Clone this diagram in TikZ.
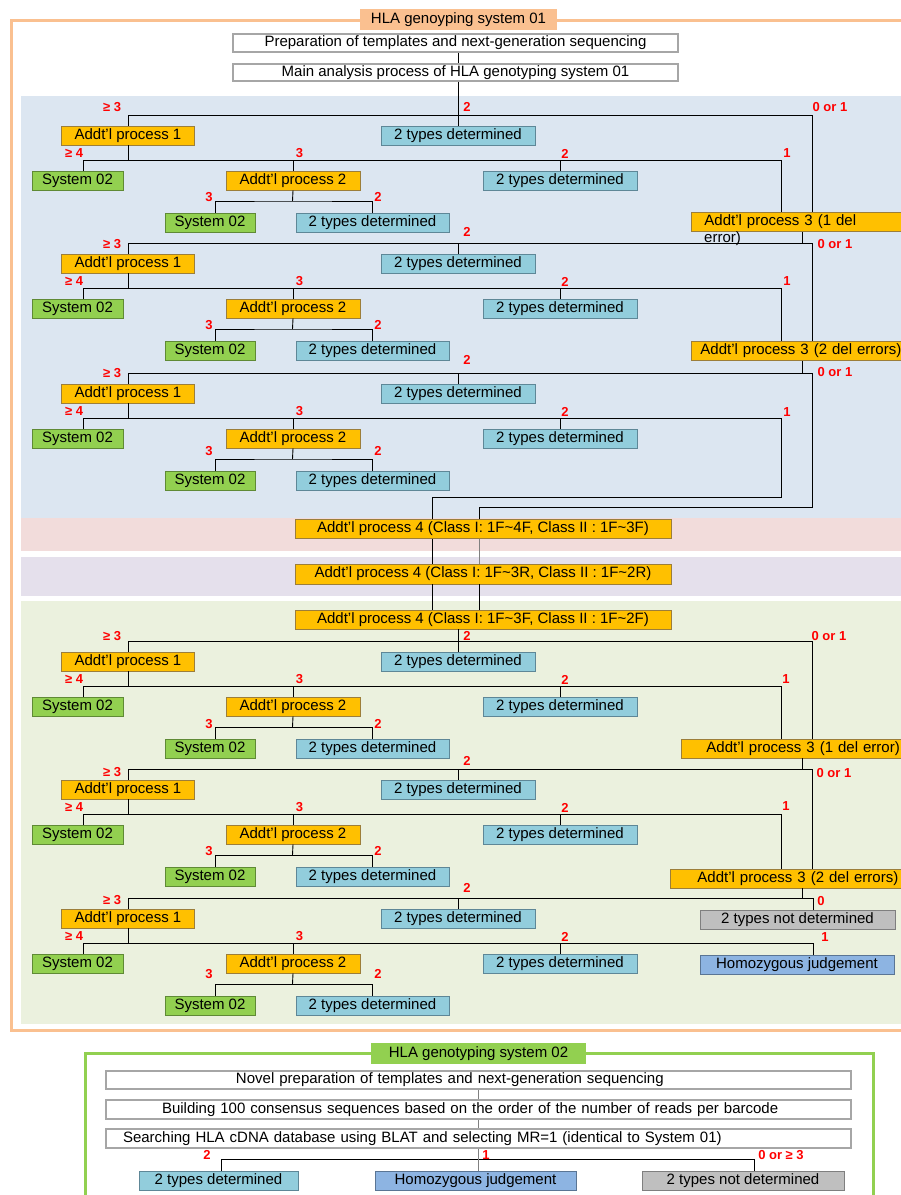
\documentclass[tikz,border=0pt]{standalone}
\usepackage{fontspec}
\setmainfont{Liberation Sans}
\usetikzlibrary{calc}
\definecolor{apfill}{HTML}{FFC000}
\definecolor{apline}{HTML}{9C7E3A}
\definecolor{sysfill}{HTML}{92D050}
\definecolor{sysline}{HTML}{5F8A35}
\definecolor{detfill}{HTML}{92CDDC}
\definecolor{detline}{HTML}{5E8797}
\definecolor{ndfill}{HTML}{BFBFBF}
\definecolor{ndline}{HTML}{7F7F7F}
\definecolor{homfill}{HTML}{8DB4E2}
\definecolor{homline}{HTML}{5A7594}
\definecolor{plainline}{HTML}{A6A6A6}
\definecolor{labred}{HTML}{FF0000}
\definecolor{orframe}{HTML}{FAC090}
\definecolor{grframe}{HTML}{92D050}
\definecolor{regblue}{HTML}{DCE6F1}
\definecolor{regpink}{HTML}{F2DCDB}
\definecolor{regpurple}{HTML}{E5E0EC}
\definecolor{reggreen}{HTML}{EBF1DE}
% #1 prefix, #2 y of top bus, #3 offset of >=3 label, #4 offset of top "2" label, #5 offset of lower labels
\newcommand\HlaBlk[5]{%
  \node[ap, minimum width=133pt] (#1ap1) at (128,{#2+20.5}) {Addt’l process 1};
  \node[det] (#1t2) at (458,{#2+20.5}) {2 types determined};
  \node[sys] (#1sa) at (77.5,{#2+65.5}) {System 02};
  \node[ap, minimum width=134pt] (#1ap2) at (293,{#2+65.5}) {Addt’l process 2};
  \node[det] (#1tb) at (560,{#2+65.5}) {2 types determined};
  \node[sys, minimum width=90pt] (#1sb) at (210,{#2+107.5}) {System 02};
  \node[det, minimum width=153pt] (#1tc) at (372.5,{#2+107.5}) {2 types determined};
  \coordinate (#1top) at (128,#2);
  \coordinate (#1bus) at (128,{#2+45});
  \coordinate (#1low) at (292.5,{#2+86});
  \draw[conn] (#1ap1.north) -- (#1top);
  \draw[conn] (#1t2.north) -- (#1t2.north |- #1top);
  \draw[conn] (#1ap1.south) -- (#1bus);
  \draw[conn] ([xshift=5.5pt]#1sa.north) |- (#1bus);
  \draw[conn] (#1ap2.north) -- (#1ap2.north |- #1bus);
  \draw[conn] (#1tb.north) -- (#1tb.north |- #1bus);
  \draw[conn] (#1ap2.south) -- (#1low);
  \draw[conn] ([xshift=5.3pt]#1sb.north) |- (#1low) -| (#1tc.north);
  \node[lab] (#1la) at (112,{#2#3}) {≥ 3};
  \node[lab] (#1lb) at (467,{#2#4}) {2};
  \node[lab] (#1lc) at (74,{#2+38.5}) {≥ 4};
  \node[lab] (#1ld) at (299.5,{#2+38.5}) {3};
  \node[lab] (#1le) at (565,{#2+38.5}) {2};
  \node[lab] (#1lf) at (209,{#2#5}) {3};
  \node[lab] (#1lg) at (378,{#2#5}) {2};
}
\begin{document}
\begin{tikzpicture}[x=1pt,y=-1pt,
  txt/.style={font=\fontsize{15}{17}\selectfont},
  box/.style={txt, draw, line width=0.8pt, inner sep=0pt, minimum height=19pt},
  ap/.style={box, fill=apfill, draw=apline},
  sys/.style={box, fill=sysfill, draw=sysline, minimum width=91pt},
  det/.style={box, fill=detfill, draw=detline, minimum width=154pt},
  nd/.style={box, fill=ndfill, draw=ndline},
  hom/.style={box, fill=homfill, draw=homline},
  plain/.style={box, fill=white, draw=plainline, line width=1.1pt},
  apthree/.style={ap, anchor=west, text width=240pt, align=left, inner ysep=0pt},
  lab/.style={text=labred, font=\bfseries\fontsize{13}{15}\selectfont, inner sep=0pt},
  conn/.style={line width=0.9pt, draw=black},
  gconn/.style={line width=0.9pt, draw=gray},
  title/.style={txt, inner sep=0pt, minimum height=21pt}
]
\useasboundingbox (0,0) rectangle (901,1195);
\clip (0,0) rectangle (901,1195);
\fill[white] (0,0) rectangle (901,1195);
% ---------------- System 01 frame and regions
\fill[regblue] (21,96) rectangle (940,517.5);
\fill[regpink] (21,517.5) rectangle (940,551);
\fill[regpurple] (21,557) rectangle (940,596);
\fill[reggreen] (21,601) rectangle (940,1024);
\draw[orframe, line width=3pt] (11,20) rectangle (940,1030);
\node[title, fill=orframe, minimum width=197pt] (t1) at (458.5,19.5) {HLA genoyping system 01};
\node[plain, minimum width=445pt, minimum height=18pt] (prep) at (455.5,43) {Preparation of templates and next-generation sequencing};
\node[plain, minimum width=445pt, minimum height=17pt] (main) at (455.5,72.5) {Main analysis process of HLA genotyping system 01};
% ---------------- Block 1
\HlaBlk{b1}{115}{-8}{-8}{+82}
\draw[conn] (prep.south -| b1t2.north) -- (main.north -| b1t2.north);
\draw[conn] (main.south -| b1t2.north) -- (b1t2.north);
\node[apthree, inner xsep=13pt,
  label={[name=b1err, anchor=north west, xshift=13pt, inner sep=0pt, font=\fontsize{15}{17}\selectfont]south west:error)}]
  (b1ap3) at (691,222) {Addt’l process 3 (1 del};
\draw[conn] (b1top) -| ([xshift=121pt]b1ap3.north west);
\draw[conn] (b1bus) -| ([xshift=90pt]b1ap3.north west);
\node[lab] (b1l0) at (830,107) {0 or 1};
\node[lab] (b1l1) at (787,153.5) {1};
% ---------------- Block 2
\HlaBlk{b2}{243}{+1}{-11}{+82}
\node[apthree, inner xsep=9pt] (b2ap3) at (691,351) {Addt’l process 3 (2 del errors)};
\draw[conn] ([xshift=111pt]b1ap3.south west) |- (b2top);
\draw[conn] (b2top) -| ([xshift=121pt]b2ap3.north west);
\draw[conn] (b2bus) -| ([xshift=90pt]b2ap3.north west);
\node[lab] (b2l0) at (835,244) {0 or 1};
\node[lab] (b2l1) at (787,281) {1};
% ---------------- Block 3
\HlaBlk{b3}{373}{+0}{-13}{+78}
\node[ap, minimum width=376pt] (ap4a) at (483,529) {Addt’l process 4 (Class I: 1F\textasciitilde4F, Class II : 1F\textasciitilde3F)};
\node[ap, minimum width=376pt, minimum height=20pt] (ap4b) at (483,574) {Addt’l process 4 (Class I: 1F\textasciitilde3R, Class II : 1F\textasciitilde2R)};
\node[ap, minimum width=376pt] (ap4c) at (483,619.5) {Addt’l process 4 (Class I: 1F\textasciitilde3F, Class II : 1F\textasciitilde2F)};
\coordinate (b3c1) at (781,497);
\coordinate (b3c0) at (812,507);
\draw[conn] ([xshift=111pt]b2ap3.south west) |- (b3top);
\draw[conn] (b3top) -| (b3c0) -| ([xshift=-4pt]ap4a.north);
\draw[conn] (b3bus) -| (b3c1) -| ([xshift=-51pt]ap4a.north);
\node[lab] (b3l0) at (835,372.5) {0 or 1};
\node[lab] (b3l1) at (787,412) {1};
\draw[conn] ([xshift=-51pt]ap4a.south) -- ([xshift=-51pt]ap4b.north);
\draw[gconn] ([xshift=-4pt]ap4a.south) -- ([xshift=-4pt]ap4b.north);
\draw[conn] ([xshift=-51pt]ap4b.south) -- ([xshift=-51pt]ap4c.north);
\draw[conn] ([xshift=-4pt]ap4b.south) -- ([xshift=-4pt]ap4c.north);
% ---------------- Block 4
\HlaBlk{b4}{641}{-5}{-5}{+83}
\draw[conn] (b4t2.north |- ap4c.south) -- (b4t2.north);
\node[apthree, inner xsep=25pt] (b4ap3) at (681,748.5) {Addt’l process 3 (1 del error)};
\draw[conn] (b4top) -| ([xshift=131pt]b4ap3.north west);
\draw[conn] (b4bus) -| ([xshift=100pt]b4ap3.north west);
\node[lab] (b4l0) at (829,636) {0 or 1};
\node[lab] (b4l1) at (786,679.5) {1};
% ---------------- Block 5
\HlaBlk{b5}{769}{+3.5}{-8}{+82}
\node[apthree, inner xsep=27pt] (b5ap3) at (670,878.5) {Addt’l process 3 (2 del errors)};
\draw[conn] ([xshift=121pt]b4ap3.south west) |- (b5top);
\draw[conn] (b5top) -| ([xshift=142pt]b5ap3.north west);
\draw[conn] (b5bus) -| ([xshift=111pt]b5ap3.north west);
\node[lab] (b5l0) at (834,773) {0 or 1};
\node[lab] (b5l1) at (786,806.5) {1};
% ---------------- Block 6
\HlaBlk{b6}{898}{+2.5}{-10}{+76}
\node[nd, minimum width=195pt] (b6nd) at (797.5,919.5) {2 types not determined};
\node[hom, minimum width=194pt] (b6hom) at (797,964.5) {Homozygous judgement};
\draw[conn] ([xshift=132pt]b5ap3.south west) |- (b6top);
\draw[conn] (b6top) -| ([xshift=15.5pt]b6nd.north);
\draw[conn] (b6bus) -| ([xshift=16pt]b6hom.north);
\node[lab] (b6l0) at (821,901) {0};
\node[lab] (b6l1) at (825,937.5) {1};
% ---------------- System 02
\draw[grframe, line width=3pt] (85,1053) rectangle (873,1230);
\node[title, fill=grframe, minimum width=215pt] (t2) at (478.5,1053.5) {HLA genotyping system 02};
\node[plain, minimum width=745pt, minimum height=18pt, text width=745pt, align=left] (s2a) at (478.5,1080) {\hspace*{130pt}Novel preparation of templates and next-generation sequencing};
\node[plain, minimum width=745pt, text width=745pt, align=left] (s2b) at (478.5,1109.5) {\hspace*{56pt}Building 100 consensus sequences based on the order of the number of reads per barcode};
\node[plain, minimum width=745pt, text width=745pt, align=left] (s2c) at (478.5,1138.5) {\hspace*{17pt}Searching HLA cDNA database using BLAT and selecting MR=1 (identical to System 01)};
\node[det, minimum width=159pt] (s2det) at (218.5,1180.5) {2 types determined};
\node[hom, minimum width=201pt] (s2hom) at (475.5,1180.5) {Homozygous judgement};
\node[nd, minimum width=202pt] (s2nd) at (743,1180.5) {2 types not determined};
\coordinate (s2bus) at (478,1159);
\draw[conn] ([xshift=2.5pt]s2det.north) |- (s2bus) -| ([xshift=11pt]s2nd.north);
\draw[gconn] (s2a.south) -- (s2b.north);
\draw[gconn] (s2b.south) -- (s2c.north);
\draw[gconn] (s2c.south) -- (s2c.south |- s2hom.north);
\node[lab] (s2l2) at (207,1155) {2};
\node[lab] (s2l1) at (486,1155) {1};
\node[lab] (s2l0) at (781,1155) {0 or ≥ 3};
\end{tikzpicture}
\end{document}
